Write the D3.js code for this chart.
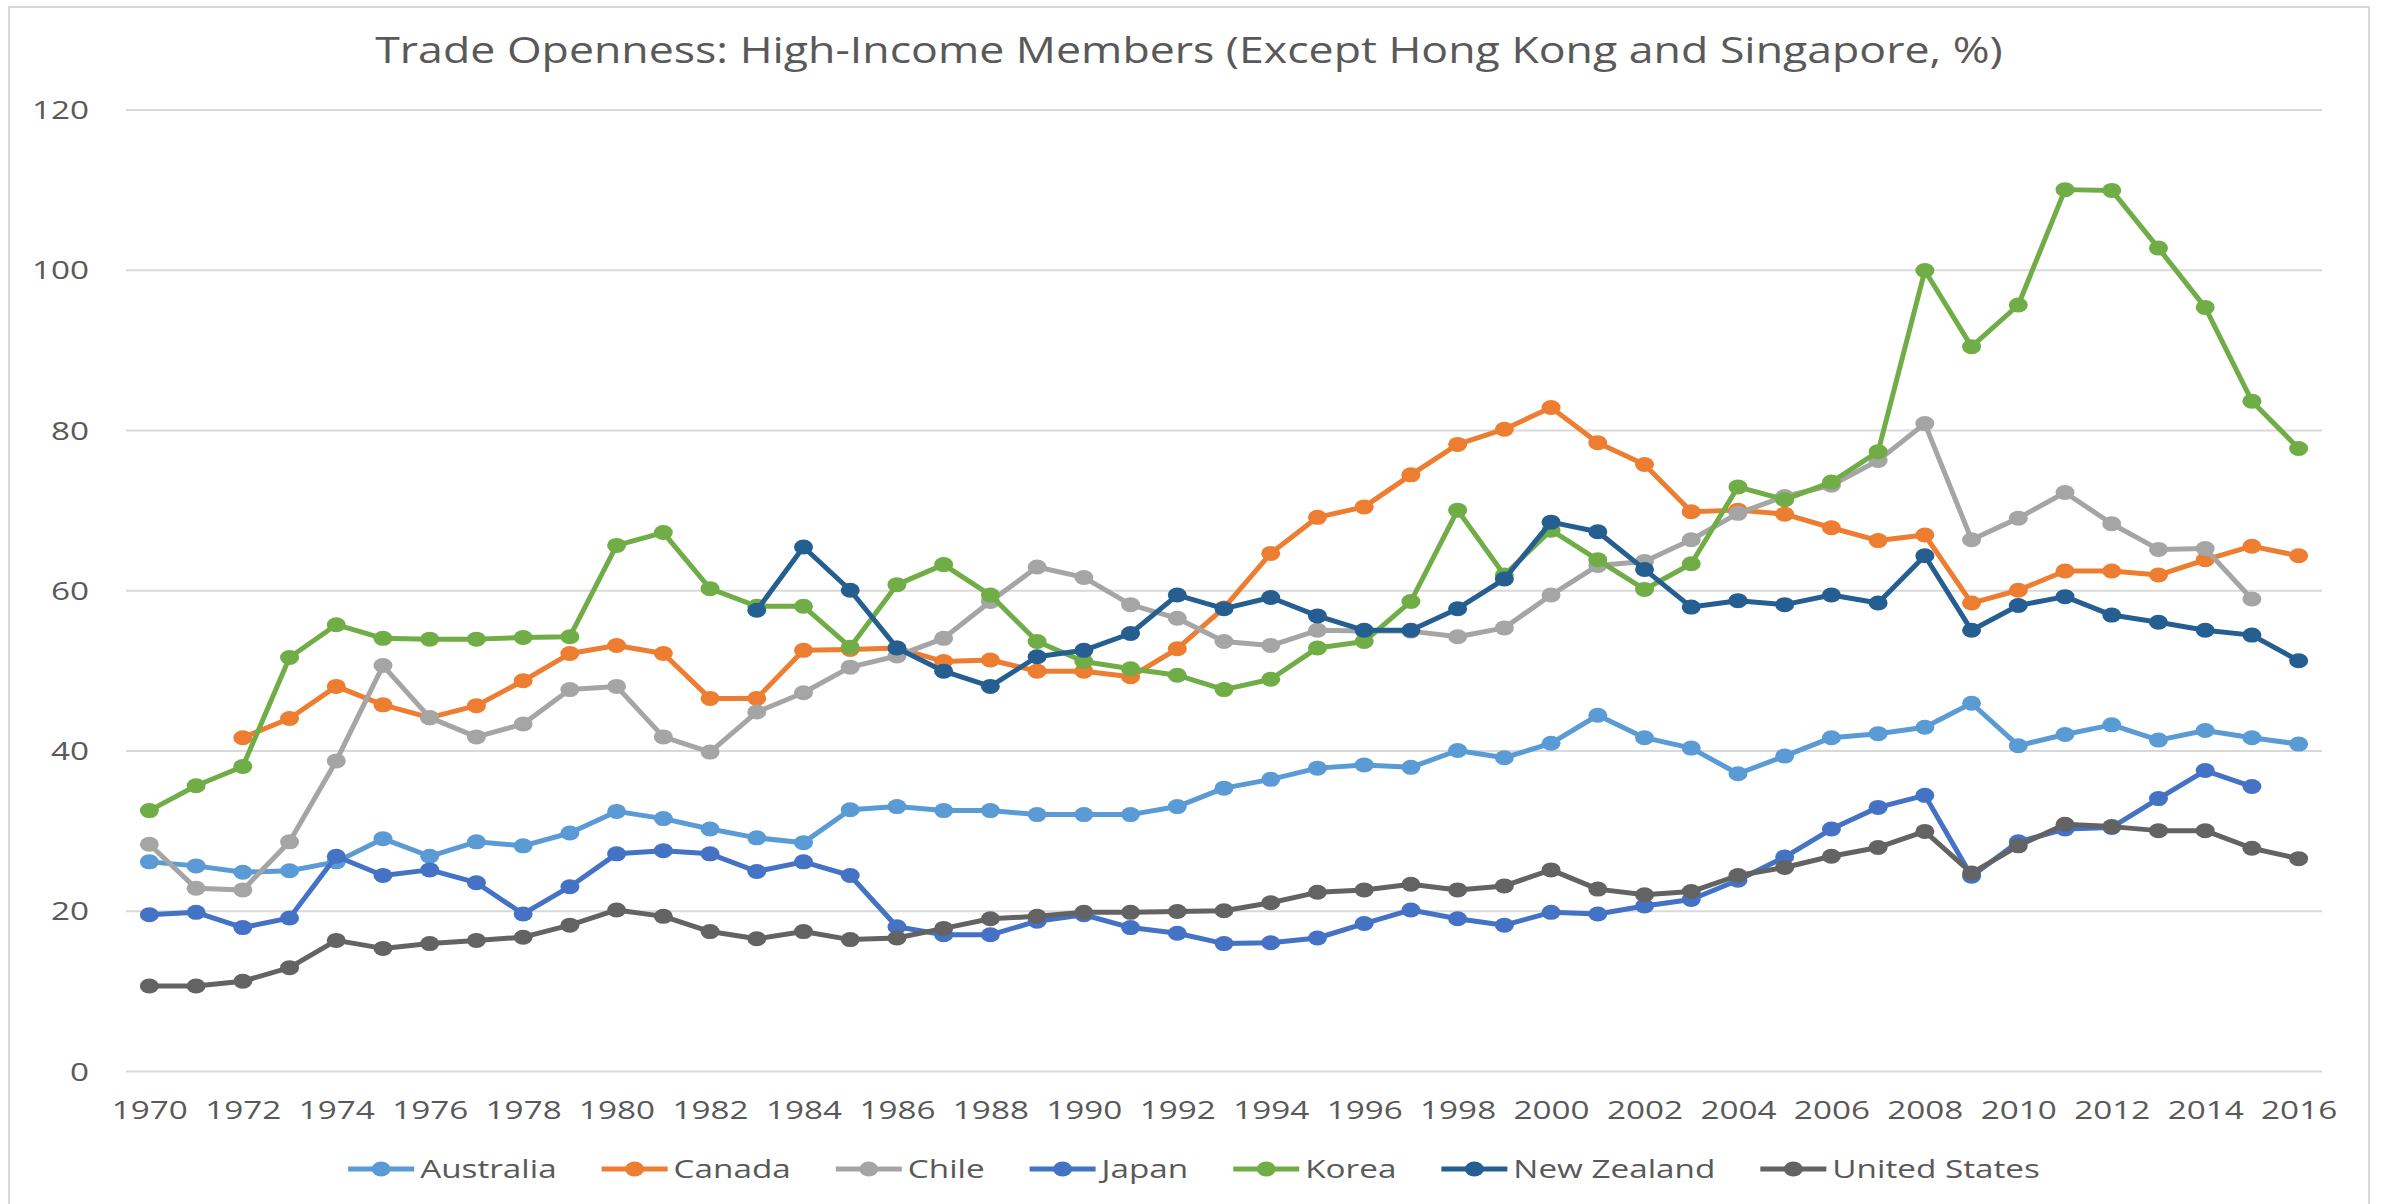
<!DOCTYPE html>
<html lang="en">
<head>
<meta charset="UTF-8" />
<title>Trade Openness</title>
<script src="https://d3js.org/d3.v7.min.js"></script>
<style>
  body { margin: 0; background: #fff; }
  text { font-family: "Open Sans", sans-serif; fill: #595959; }
</style>
</head>
<body>
<div id="chart"></div>
<script>
// years on the x axis
const years = d3.range(1970, 2017);
const tickYears = years.filter(d => d % 2 === 0);
const yTicks = [0, 20, 40, 60, 80, 100, 120];

const countries = ["Australia", "Canada", "Chile", "Japan", "Korea", "New Zealand", "United States"];
const colors = ["#5B9BD5", "#ED7D31", "#A5A5A5", "#4472C4", "#70AD47", "#255E91", "#636363"];

// values, 1970..2016 (null = no data)
const australia = [26.1,25.6,24.8,25.0,26.1,29.0,26.8,28.6,28.1,29.7,
  32.4,31.5,30.2,29.1,28.5,32.6,33.0,32.5,32.5,32.0,
  32.0,32.0,33.0,35.3,36.4,37.8,38.2,37.9,40.0,39.1,
  40.9,44.4,41.6,40.3,37.1,39.3,41.6,42.1,42.9,45.9,
  40.6,42.0,43.2,41.3,42.5,41.6,40.8];
const canada = [null,null,41.6,44.0,48.0,45.7,44.1,45.6,48.7,52.1,
  53.1,52.1,46.5,46.5,52.5,52.6,52.8,51.1,51.3,49.9,
  49.9,49.2,52.7,57.8,64.6,69.1,70.4,74.4,78.2,80.1,
  82.8,78.4,75.7,69.8,70.0,69.5,67.8,66.2,66.9,58.4,
  60.0,62.4,62.4,61.9,63.8,65.5,64.3];
const chile = [28.3,22.8,22.6,28.6,38.7,50.6,44.1,41.7,43.3,47.6,
  48.0,41.7,39.8,44.8,47.2,50.4,51.8,54.0,58.6,62.9,
  61.6,58.2,56.5,53.6,53.1,55.0,54.9,54.9,54.2,55.3,
  59.4,63.1,63.6,66.3,69.6,71.7,73.1,76.2,80.8,66.3,
  69.0,72.2,68.3,65.1,65.2,58.9,null];
const japan = [19.5,19.8,17.9,19.1,26.8,24.4,25.1,23.5,19.6,23.0,
  27.1,27.5,27.1,24.9,26.1,24.4,18.0,17.0,17.0,18.7,
  19.5,17.9,17.2,15.9,16.0,16.6,18.4,20.1,19.0,18.2,
  19.8,19.6,20.6,21.4,23.8,26.7,30.2,32.9,34.4,24.3,
  28.6,30.2,30.4,34.0,37.5,35.5,null];
const korea = [32.5,35.6,38.0,51.6,55.7,54.0,53.9,53.9,54.1,54.2,
  65.6,67.2,60.2,58.0,58.0,52.9,60.7,63.2,59.4,53.6,
  51.1,50.2,49.4,47.6,48.9,52.8,53.6,58.6,70.0,61.9,
  67.5,63.8,60.1,63.3,72.9,71.3,73.5,77.3,99.9,90.4,
  95.6,110.0,109.9,102.7,95.3,83.6,77.7];
const newZealand = [null,null,null,null,null,null,null,null,null,null,
  null,null,null,57.5,65.4,60.0,52.8,49.9,48.0,51.7,
  52.5,54.6,59.4,57.7,59.1,56.8,55.0,55.0,57.7,61.4,
  68.5,67.3,62.6,57.9,58.7,58.2,59.4,58.4,64.3,55.0,
  58.1,59.2,56.9,56.0,55.0,54.4,51.2];
const unitedStates = [10.6,10.6,11.2,12.9,16.3,15.3,15.9,16.3,16.7,18.2,
  20.1,19.3,17.4,16.5,17.4,16.4,16.6,17.8,19.0,19.3,
  19.8,19.8,19.9,20.0,21.0,22.3,22.6,23.3,22.6,23.1,
  25.1,22.7,22.0,22.4,24.4,25.4,26.8,27.9,29.9,24.7,
  28.1,30.8,30.5,30.0,30.0,27.8,26.5];

const seriesValues = [australia, canada, chile, japan, korea, newZealand, unitedStates];

const W = 2387, H = 1204;
const sx = 1.3;             // the picture is stretched sideways
const fontSize = 25.6;

const svg = d3.select("#chart").append("svg")
  .attr("width", W).attr("height", H);

// chart frame
svg.append("rect")
  .attr("x", 9).attr("y", 7)
  .attr("width", 2360).attr("height", 1260)
  .attr("fill", "none").attr("stroke", "#D9D9D9").attr("stroke-width", 2);

const x = d3.scalePoint().domain(years).range([126, 2322]).padding(0.5);
const y = d3.scaleLinear().domain([0, 120]).range([1071, 109.5]);

// y gridlines + labels
const yAxis = svg.append("g")
  .attr("transform", "translate(126,0)")
  .call(d3.axisLeft(y).tickValues(yTicks).tickSize(-2196).tickPadding(0));
yAxis.select(".domain").remove();
yAxis.selectAll(".tick line").attr("stroke", "#D9D9D9").attr("stroke-width", 2);
yAxis.selectAll(".tick text")
  .attr("x", 0).attr("dy", "0.357em")
  .attr("transform", `translate(-37,0) scale(${sx},1)`)
  .style("font-size", fontSize + "px").style("font-family", "Open Sans").attr("fill", "#595959");

// x labels
const xAxis = svg.append("g")
  .attr("transform", "translate(0,1071)")
  .call(d3.axisBottom(x).tickValues(tickYears).tickSize(0));
xAxis.select(".domain").remove();
xAxis.selectAll(".tick text")
  .attr("y", 0).attr("dy", null)
  .attr("transform", `translate(0,48) scale(${sx},1)`)
  .style("font-size", fontSize + "px").style("font-family", "Open Sans").attr("fill", "#595959");

// title
svg.append("text")
  .attr("text-anchor", "middle")
  .attr("transform", "translate(1189,63) scale(1.24,1)")
  .style("font-size", "36px")
  .text("Trade Openness: High-Income Members (Except Hong Kong and Singapore, %)");

// series
const line = d3.line()
  .defined(d => d != null)
  .x((d, i) => x(years[i]))
  .y(d => y(d));

countries.forEach((name, k) => {
  const vals = seriesValues[k];
  const g = svg.append("g");
  g.append("path")
    .attr("d", line(vals))
    .attr("fill", "none")
    .attr("stroke", colors[k])
    .attr("stroke-width", 5)
    .attr("stroke-linejoin", "round");
  g.selectAll("ellipse")
    .data(vals.map((v, i) => ({ v: v, yr: years[i] })).filter(d => d.v != null))
    .enter().append("ellipse")
    .attr("cx", d => x(d.yr))
    .attr("cy", d => y(d.v))
    .attr("rx", 9.5).attr("ry", 7.5)
    .attr("fill", colors[k]);
});

// legend
const legend = svg.append("g");
let pos = 0;
countries.forEach((name, k) => {
  const item = legend.append("g").attr("transform", `translate(${pos},0)`);
  item.append("line")
    .attr("x1", 0).attr("x2", 66).attr("y1", 0).attr("y2", 0)
    .attr("stroke", colors[k]).attr("stroke-width", 5);
  item.append("ellipse")
    .attr("cx", 33).attr("cy", 0).attr("rx", 9.5).attr("ry", 7.5)
    .attr("fill", colors[k]);
  const t = item.append("text")
    .attr("dy", "0.357em")
    .attr("transform", `translate(72,0) scale(${sx},1)`)
    .style("font-size", fontSize + "px")
    .text(name);
  pos += 72 + t.node().getComputedTextLength() * sx + 45;
});
const legendWidth = pos - 45;
legend.attr("transform", `translate(${1194 - legendWidth / 2},1169)`);
</script>
</body>
</html>
